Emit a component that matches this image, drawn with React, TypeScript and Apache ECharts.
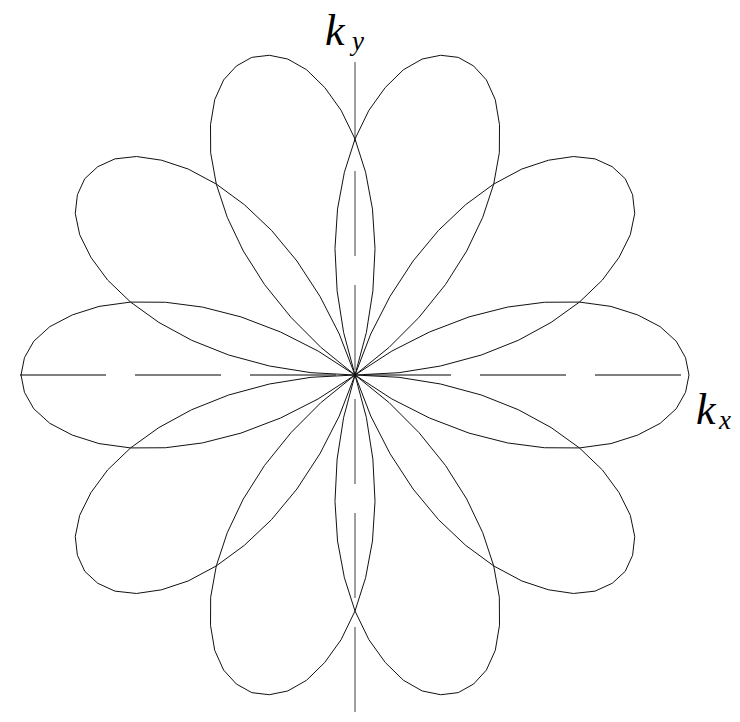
import React, { useEffect, useRef } from "react";
import * as echarts from "echarts";

// Petal axis directions (degrees, counter-clockwise from +kx)
const petalAngles = [0, 36, 72, 108, 144, 180, 216, 252, 288, 324];
// Angular offset from the petal axis (degrees) and the radius read at that offset
const petalOffsets = [-36, -33, -30, -27, -24, -21, -18, -15, -12, -9, -6, -3, 0, 3, 6, 9, 12, 15, 18, 21, 24, 27, 30, 33, 36];
const petalRadii = [0, 44, 86, 128, 167, 203, 236, 265, 289, 309, 323, 331, 334, 331, 323, 309, 289, 265, 236, 203, 167, 128, 86, 44, 0];

const axisLabels = [
  { main: "k", sub: "x" },
  { main: "k", sub: "y" },
];

const norm = (a: number) => ((a % 360) + 360) % 360;

export default function App() {
  const ref = useRef<HTMLDivElement>(null);
  useEffect(() => {
    if (!ref.current) return;
    const chart = echarts.init(ref.current, null, { renderer: "svg" });
    const series = petalAngles.map((ang) => ({
      type: "line",
      coordinateSystem: "polar",
      data: petalOffsets.map((o, i) => [petalRadii[i], norm(ang + o)]),
      symbol: "none",
      clip: false,
      lineStyle: { color: "#111", width: 1 },
      silent: true,
      z: 3,
    }));
    const font = { fontFamily: "Liberation Serif", fontStyle: "italic", fill: "#000" };
    chart.setOption({
      animation: false,
      backgroundColor: "#fff",
      polar: { center: [355, 375], radius: 335 },
      angleAxis: {
        type: "value", min: 0, max: 360, startAngle: 0, clockwise: false,
        show: false, splitLine: { show: false }, axisLine: { show: false },
      },
      radiusAxis: {
        type: "value", min: 0, max: 335,
        show: false, splitLine: { show: false }, axisLine: { show: false },
      },
      graphic: [
        {
          type: "line", z: 0,
          shape: { x1: 20, y1: 375, x2: 688, y2: 375 },
          style: { stroke: "#000", lineWidth: 1, lineDash: [86, 29] },
        },
        {
          type: "line", z: 0,
          shape: { x1: 355, y1: 712, x2: 355, y2: 62 },
          style: { stroke: "#808080", lineWidth: 1.5, lineDash: [85, 29] },
        },
        { type: "text", z: 5, style: { ...font, text: axisLabels[1].main, x: 325, y: 30, fontSize: 44, verticalAlign: "middle" } },
        { type: "text", z: 5, style: { ...font, text: axisLabels[1].sub, x: 352, y: 41, fontSize: 27, verticalAlign: "middle" } },
        { type: "text", z: 5, style: { ...font, text: axisLabels[0].main, x: 696, y: 409, fontSize: 44, verticalAlign: "middle" } },
        { type: "text", z: 5, style: { ...font, text: axisLabels[0].sub, x: 719, y: 420, fontSize: 27, verticalAlign: "middle" } },
      ],
      series,
    });
    return () => chart.dispose();
  }, []);
  return (
    <div
      ref={ref}
      style={{ position: "absolute", left: 0, top: 0, width: 740, height: 722, background: "#fff" }}
    />
  );
}
